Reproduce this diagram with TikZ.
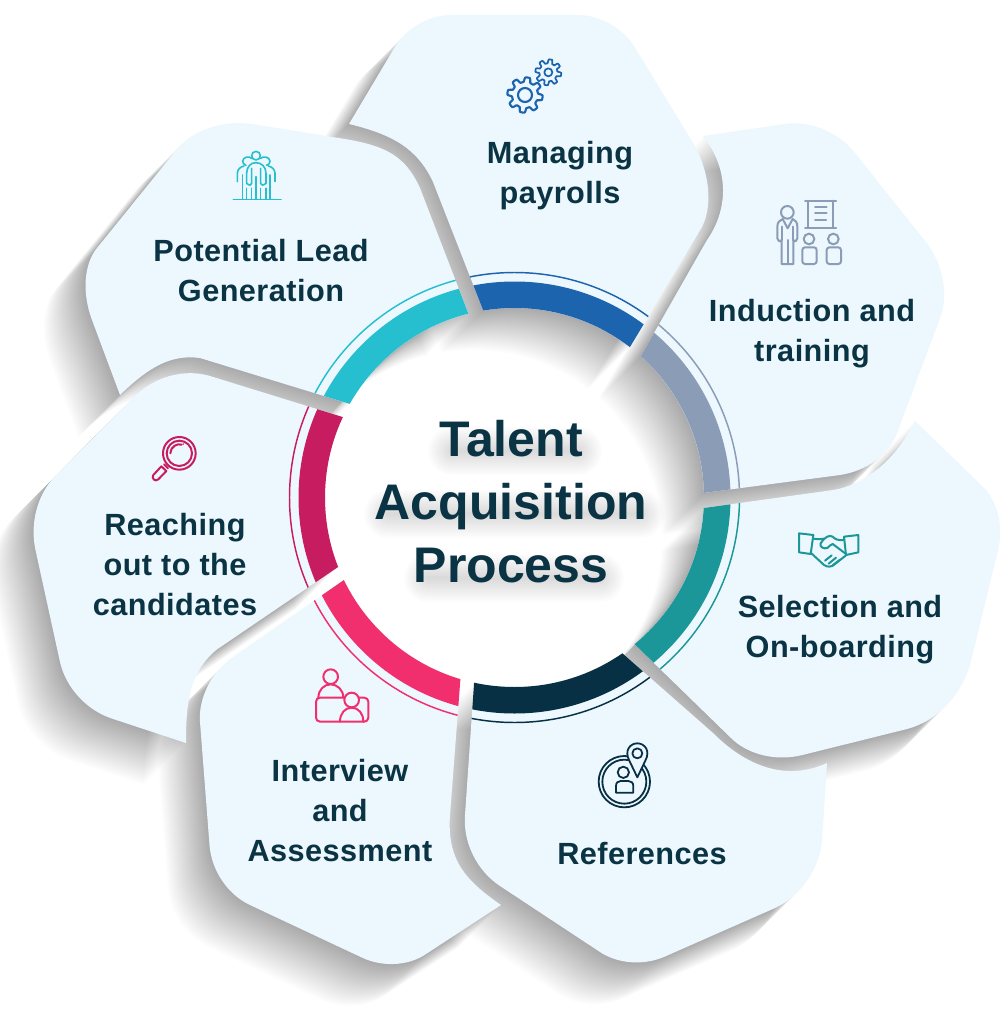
\documentclass[tikz,border=0pt]{standalone}
\usepackage{fontspec}
\newfontfamily\labelfont[LetterSpace=1.5]{Liberation Sans}
\newfontfamily\titlefont{Liberation Sans}
\definecolor{petal}{HTML}{ECF8FD}
\definecolor{ink}{HTML}{0A3344}
\definecolor{shade}{HTML}{282832}
\definecolor{cLead}{HTML}{26BFD0}
\definecolor{cPay}{HTML}{1D64AF}
\definecolor{cTrain}{HTML}{8A9CB6}
\definecolor{cSelect}{HTML}{1B9799}
\definecolor{cRef}{HTML}{083045}
\definecolor{cInter}{HTML}{F22F6E}
\definecolor{cReach}{HTML}{C71D60}
% Petal outlines in pixel coordinates, y running downwards
\def\pathPay{(349,124) -- (394.5,47.6) .. controls (406.2,28) and (429.2,15) .. (452,15) -- (577,15) .. controls (599.8,15) and (622.9,28) .. (634.8,47.4) -- (693,143) .. controls (708,168) and (714,203) .. (702,227) -- (629.9,347.2) arc[start angle=-52.5,end angle=-99.5,radius=189.5] -- (433,182) .. controls (418,150) and (395,135) .. (349,124) -- cycle}
\def\pathLead{(120,395) .. controls (148,368) and (170,354) .. (200,358) -- (349.8,403.9) arc[start angle=-150.4,end angle=-104.1,radius=189.5] -- (420,188) .. controls (405,155) and (385,146) .. (345,139) -- (252,124) .. controls (222.6,119.8) and (192.4,130.2) .. (176.6,149.6) -- (97,248) .. controls (83.8,264.2) and (81.8,293) .. (92,320) -- cycle}
\def\pathTrain{(703,136) -- (785,124) .. controls (810.2,120.4) and (838.2,132) .. (855,153) -- (925,241) .. controls (943,263.2) and (949,294) .. (940,318) -- (897,433) .. controls (889.2,454.3) and (866.4,471.1) .. (840,475) -- (703.9,492.9) arc[start angle=-1.4,end angle=-48.2,radius=189.5] -- (707,240) .. controls (728,210) and (730,170) .. (703,136) -- cycle}
\def\pathSelect{(915,421) -- (982,486) .. controls (997.6,501) and (1004,526.6) .. (998,550) -- (971,661) .. controls (962.9,694) and (937.3,721.2) .. (907,729) -- (802.5,755) .. controls (776.4,761.6) and (747.8,754.8) .. (731,738) -- (634.5,644.1) arc[start angle=50.7,end angle=3.2,radius=189.5] -- (833,490) .. controls (860,486) and (893,465) .. (915,421) -- cycle}
\def\pathRef{(827,763) -- (822,840) .. controls (819.6,868.8) and (800.8,896) .. (775,908) -- (665,956.5) .. controls (644,965.8) and (618,964) .. (600,952) -- (500,886) .. controls (476.8,870.7) and (462.8,842.3) .. (465,815) -- (474.1,682.6) arc[start angle=102.3,end angle=55.3,radius=189.5] -- (713,733) .. controls (750,770) and (790,780) .. (827,763) -- cycle}
\def\pathInter{(343.9,580) -- (233,657) .. controls (211.4,672) and (198.2,698) .. (200,722) -- (209.5,845) .. controls (211.4,870.4) and (227.6,894.5) .. (250,905) -- (362,957.6) .. controls (382.4,967.2) and (407.6,966) .. (425,954.7) -- (501,905) .. controls (465,880) and (447,860) .. (450,815) -- (460.4,679.1) arc[start angle=106.6,end angle=154.2,radius=189.5] -- cycle}
\def\pathReach{(186,743) -- (112,718.6) .. controls (86.6,710.3) and (65.8,687.6) .. (60,662) -- (35.5,550) .. controls (29.6,523.6) and (37.4,494.2) .. (55,476.5) -- (135,396) .. controls (154.8,376.4) and (184.8,368.4) .. (210,376) -- (342.9,417.1) arc[start angle=205.1,end angle=158.5,radius=189.5] -- (216.7,649.6) .. controls (190,672) and (186,700) .. (186,743) -- cycle}
\tikzset{
  shadowlayer/.style={fill=shade,fill opacity=0.0095},
  petalfill/.style={fill=petal},
  label/.style={font=\labelfont\bfseries\fontsize{23}{30}\selectfont,text=ink,align=center,inner sep=0pt},
  headline/.style={font=\titlefont\bfseries\fontsize{37.5}{47.25}\selectfont,align=center,inner sep=0pt},
  icon/.style={line width=1.5pt,line join=round,line cap=round},
  bandmark/.style={line width=19.875pt},
  hairline/.style={line width=1.1pt},
  headglow/.style={draw=black,draw opacity=0.011,line cap=round}
}
\begin{document}
\begin{tikzpicture}[x=0.75pt,y=0.75pt,yscale=-1]
\useasboundingbox (0,0) rectangle (1000,1013);
\fill[white] (0,0) rectangle (1000,1013);
\coordinate (hub) at (514.5,497.5);

% Long soft shadows thrown down and to the left
\foreach \p in {\pathPay,\pathLead,\pathTrain,\pathSelect,\pathRef,\pathInter,\pathReach}{
  \foreach \k in {1,...,42}{
    \fill[shadowlayer,shift={(-\k,\k)}] \p;
  }
}

% Petals with their coloured ring segments
\foreach \p/\c in {\pathPay/cPay,\pathLead/cLead,\pathTrain/cTrain,\pathSelect/cSelect,\pathRef/cRef,\pathInter/cInter,\pathReach/cReach}{
  \fill[petalfill] \p;
  \begin{scope}
    \clip \p;
    \draw[bandmark,draw=\c] (hub) circle[radius=202.75];
    \draw[hairline,draw=\c] (hub) circle[radius=225];
  \end{scope}
}

% Gears
\begin{scope}[shift={(480,40)},scale=1/3,icon,draw=cPay]
  \draw[line width=1.6pt] plot[domain=0:360,samples=145,smooth] ({135+(46+7*max(-1,min(1,2.2*sin(8*\x+20))))*cos(\x)},{165+(46+7*max(-1,min(1,2.2*sin(8*\x+20))))*sin(\x)}) -- cycle;
  \draw[line width=1.6pt] (135,165) circle[radius=21];
  \draw[line width=1.3pt] plot[domain=0:360,samples=145,smooth] ({205+(33+6*max(-1,min(1,2.2*sin(8*\x+10))))*cos(\x)},{97+(33+6*max(-1,min(1,2.2*sin(8*\x+10))))*sin(\x)}) -- cycle;
  \draw[line width=1.3pt] (205,97) circle[radius=12];
\end{scope}

% Group of people
\begin{scope}[shift={(220,140)},scale=1/3,icon,draw=cLead,line width=1.2pt]
  \draw (40,178) -- (183,178);
  \draw (108,47) circle[radius=13];
  \draw (95,55) .. controls (88,48) and (70,50) .. (68,63) .. controls (68,70) and (72,74) .. (78,76);
  \draw (122,55) .. controls (130,48) and (148,50) .. (150,63) .. controls (150,70) and (146,74) .. (140,76);
  \draw (80,130) -- (80,100) .. controls (80,80) and (92,68) .. (108,68) .. controls (124,68) and (138,80) .. (138,100) -- (138,130);
  \draw (95,85) -- (95,130) .. controls (95,137) and (88,137) .. (80,130);
  \draw (122,85) -- (122,130) .. controls (122,137) and (130,137) .. (138,130);
  \draw (95,145) -- (95,178);
  \draw (108,110) -- (108,178);
  \draw (122,145) -- (122,178);
  \draw (52,125) -- (52,100) .. controls (52,88) and (62,80) .. (72,78);
  \draw (165,125) -- (165,100) .. controls (165,88) and (155,80) .. (145,78);
  \draw (68,105) -- (68,178);
  \draw (80,145) -- (80,178);
  \draw (138,145) -- (138,178);
  \draw (150,105) -- (150,178);
\end{scope}

% Presenter and audience
\begin{scope}[shift={(760,190)},scale=1/3,icon,draw=cTrain]
  \draw (82,67) circle[radius=19];
  \draw (65,222) -- (65,150) .. controls (60,158) and (52,152) .. (52,145) -- (52,110) .. controls (52,95) and (60,92) .. (68,87) -- (83,115) -- (98,87) .. controls (106,92) and (112,95) .. (112,110) -- (112,145) .. controls (112,152) and (104,158) .. (100,150) -- (100,222) -- cycle;
  \draw (83,150) -- (83,222);
  \draw (65,110) -- (65,150);
  \draw (100,110) -- (100,150);
  \draw (135,32) -- (228,32);
  \draw (135,113) -- (228,113);
  \draw (145,32) -- (145,113);
  \draw (218,32) -- (218,113);
  \draw (165,50) -- (200,50);
  \draw (165,70) -- (200,70);
  \draw (165,90) -- (198,90);
  \draw (147,147) circle[radius=16];
  \draw (220,147) circle[radius=16];
  \draw[rounded corners=2] (127,172) rectangle (170,222);
  \draw[rounded corners=2] (200,172) rectangle (243,222);
\end{scope}

% Handshake
\begin{scope}[shift={(780,520)},scale=1/3,icon,draw=cSelect]
  \draw (57,40) -- (100,45) -- (92,102) -- (57,97) -- cycle;
  \draw (235,45) -- (192,50) -- (198,105) -- (235,97) -- cycle;
  \draw (99,56) .. controls (110,58) and (120,58) .. (132,56);
  \draw (192,60) .. controls (175,62) and (165,58) .. (158,50) .. controls (148,44) and (135,50) .. (122,70) .. controls (118,80) and (130,88) .. (142,84) .. controls (148,78) and (152,74) .. (158,72) -- (198,102);
  \draw (92,98) -- (132,135) .. controls (142,142) and (155,142) .. (165,132) -- (198,106);
  \draw (135,122) -- (155,106);
  \draw (146,131) -- (168,113);
  \draw (158,136) -- (180,119);
\end{scope}

% Profile with map pin
\begin{scope}[shift={(580,730)},scale=1/3,icon,draw=cRef,line width=1.35pt]
  \draw (133,155) circle[radius=77];
  \draw (133,155) circle[radius=66];
  \draw[fill=petal] (172,142) -- (148,92) .. controls (132,62) and (150,40) .. (172,40) .. controls (194,40) and (212,62) .. (196,92) -- cycle;
  \draw (172,70) circle[radius=15];
  \draw (130,127) circle[radius=17];
  \draw (108,188) -- (108,168) .. controls (108,158) and (114,153) .. (122,153) -- (145,153) .. controls (153,153) and (160,158) .. (160,168) -- (160,188) -- cycle;
\end{scope}

% Interview at a desk
\begin{scope}[shift={(300,655)},scale=1/3,icon,draw=cInter]
  \draw (92,65) circle[radius=22];
  \draw (55,128) .. controls (55,105) and (72,88) .. (92,88) .. controls (112,88) and (130,105) .. (130,128);
  \draw[rounded corners=3] (48,128) rectangle (205,200);
  \draw[fill=petal] (155,135) circle[radius=22];
  \draw (120,200) .. controls (120,175) and (135,158) .. (155,158) .. controls (175,158) and (190,175) .. (190,200);
\end{scope}

% Magnifying glass
\begin{scope}[shift={(140,425)},scale=1/3,icon,draw=cReach]
  \draw (118,85) circle[radius=49];
  \draw (118,85) circle[radius=38];
  \draw (91,85) arc[start angle=180,end angle=285,radius=27];
  \fill[cReach] (130,57) circle[radius=2.5];
  \draw (72,118) -- (84,130);
  \draw (64,124) -- (40,150) .. controls (33,160) and (46,172) .. (55,163) -- (79,138) -- cycle;
\end{scope}

% Step captions
\node[label] (payrolls) at (560,175.5) {Managing\\payrolls};
\node[label] (lead) at (261,271) {Potential Lead\\Generation};
\node[label] (training) at (812,334) {Induction and\\training};
\node[label] (selection) at (840,629.5) {Selection and\\On-boarding};
\node[label] (references) at (642,854) {References};
\node[label] (interview) at (340,811) {Interview\\and\\Assessment};
\node[label] (reaching) at (175,565) {Reaching\\out to the\\candidates};

% Soft glow sitting beneath each heading line
\foreach \w in {4,8,...,48}{
  \draw[headglow,line width=\w*0.75pt] (452,451) -- (578,451);
  \draw[headglow,line width=\w*0.75pt] (388,514) -- (640,514);
  \draw[headglow,line width=\w*0.75pt] (428,578) -- (600,578);
}
\node[headline,text=ink] (heading) at (511,502) {Talent\\Acquisition\\Process};
\end{tikzpicture}
\end{document}
